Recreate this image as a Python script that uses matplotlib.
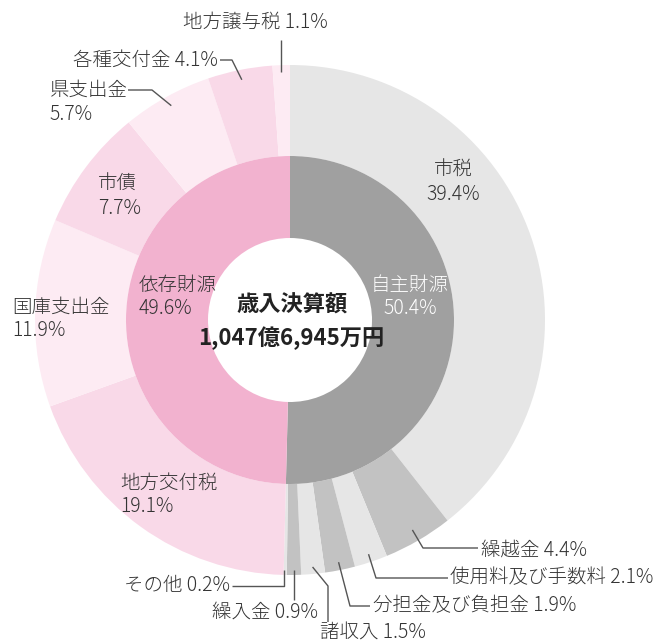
import numpy as np
import matplotlib
matplotlib.use("Agg")
import matplotlib.pyplot as plt

plt.rcParams['font.family'] = ['Noto Sans CJK JP', 'DejaVu Sans']
plt.rcParams['font.weight'] = 'light'

# Data
outer_labels = ['市税', '繰越金', '使用料及び手数料', '分担金及び負担金', '諸収入', '繰入金', 'その他',
                '地方交付税', '国庫支出金', '市債', '県支出金', '各種交付金', '地方譲与税']
outer_values = [39.4, 4.4, 2.1, 1.9, 1.5, 0.9, 0.2, 19.1, 11.9, 7.7, 5.7, 4.1, 1.1]
inner_labels = ['自主財源', '依存財源']
inner_values = [50.4, 49.6]
total_label = '歳入決算額'
total_value = '1,047億6,945万円'

outer_colors = ['#e6e6e6', '#c2c2c2', '#e6e6e6', '#c2c2c2', '#e6e6e6', '#c2c2c2', '#e6e6e6',
                '#f9d9e8', '#fdebf3', '#f9d9e8', '#fdebf3', '#f9d9e8', '#fdebf3']
inner_colors = ['#a0a0a0', '#f2b2cf']

W, H = 658, 642
fig = plt.figure(figsize=(W / 100, H / 100), dpi=100)
ax = fig.add_axes([0, 0, 1, 1])

cx, cy = 290, H - 320
R_out, R_mid, R_in = 255, 164, 82

ax.pie(outer_values, colors=outer_colors, radius=R_out, center=(cx, cy), startangle=90,
       counterclock=False, wedgeprops=dict(width=R_out - R_mid, linewidth=0), frame=True)
ax.pie(inner_values, colors=inner_colors, radius=R_mid, center=(cx, cy), startangle=90,
       counterclock=False, wedgeprops=dict(width=R_mid - R_in, linewidth=0), frame=True)
ax.set_xlim(0, W)
ax.set_ylim(0, H)
ax.set_aspect('equal')
ax.axis('off')

tc = '#333333'
fs = 14


def T(x, y, s, **kw):
    kw.setdefault('fontsize', fs)
    kw.setdefault('color', tc)
    kw.setdefault('va', 'center')
    ax.text(x, H - y, s, **kw)


def L(pts):
    xs = [p[0] for p in pts]
    ys = [H - p[1] for p in pts]
    ax.plot(xs, ys, color='#555555', lw=1.0, solid_capstyle='butt')


def pct(v):
    return f'{v}%'


cum = np.cumsum([0] + outer_values)


def mid_pt(i, r=245):
    frac = (cum[i] + cum[i + 1]) / 2 / 100
    a = np.deg2rad(90 - frac * 360)
    return (cx + r * np.cos(a), 320 - r * np.sin(a))


# in-ring labels
T(453, 170, outer_labels[0], ha='center')
T(453, 195, pct(outer_values[0]), ha='center')
T(120, 483, outer_labels[7], ha='left')
T(120, 507, pct(outer_values[7]), ha='left')
T(12, 307, outer_labels[8], ha='left')
T(12, 330, pct(outer_values[8]), ha='left')
T(98, 184, outer_labels[9], ha='left')
T(98, 208, pct(outer_values[9]), ha='left')

# inner labels
T(410, 285, inner_labels[0], ha='center', color='white')
T(410, 308, pct(inner_values[0]), ha='center', color='white')
T(139, 285, inner_labels[1], ha='left')
T(139, 308, pct(inner_values[1]), ha='left')

# center
T(292, 305, total_label, ha='center', fontsize=16, fontweight='bold', color='#222222')
T(291, 338, total_value, ha='center', fontsize=16, fontweight='bold', color='#222222')

# leader labels
p = mid_pt(12, 248)
L([(p[0], p[1]), (p[0], 40)])
T(255, 22, f'{outer_labels[12]} {pct(outer_values[12])}', ha='center')

p = mid_pt(11)
L([p, (232, 60), (220, 60)])
T(218, 60, f'{outer_labels[11]} {pct(outer_values[11])}', ha='right')

p = mid_pt(10)
L([p, (152, 90), (128, 90)])
T(50, 90, outer_labels[10], ha='left')
T(50, 115, pct(outer_values[10]), ha='left')

p = mid_pt(1, 243)
L([p, (423, 548), (478, 548)])
T(481, 550, f'{outer_labels[1]} {pct(outer_values[1])}', ha='left')

p = mid_pt(2, 247)
L([p, (376, 578), (448, 578)])
T(450, 578, f'{outer_labels[2]} {pct(outer_values[2])}', ha='left')

p = mid_pt(3, 247)
L([p, (350, 606), (370, 606)])
T(373, 606, f'{outer_labels[3]} {pct(outer_values[3])}', ha='left')

p = mid_pt(4, 248)
L([p, (328, 586), (328, 622)])
T(320, 633, f'{outer_labels[4]} {pct(outer_values[4])}', ha='left')

p = mid_pt(5, 250)
L([p, (p[0], 600)])
T(318, 612, f'{outer_labels[5]} {pct(outer_values[5])}', ha='right')

p = mid_pt(6, 250)
L([(p[0] - 1, p[1]), (p[0] - 1, 586), (232, 586)])
T(230, 586, f'{outer_labels[6]} {pct(outer_values[6])}', ha='right')

fig.savefig('out.png', dpi=100)
